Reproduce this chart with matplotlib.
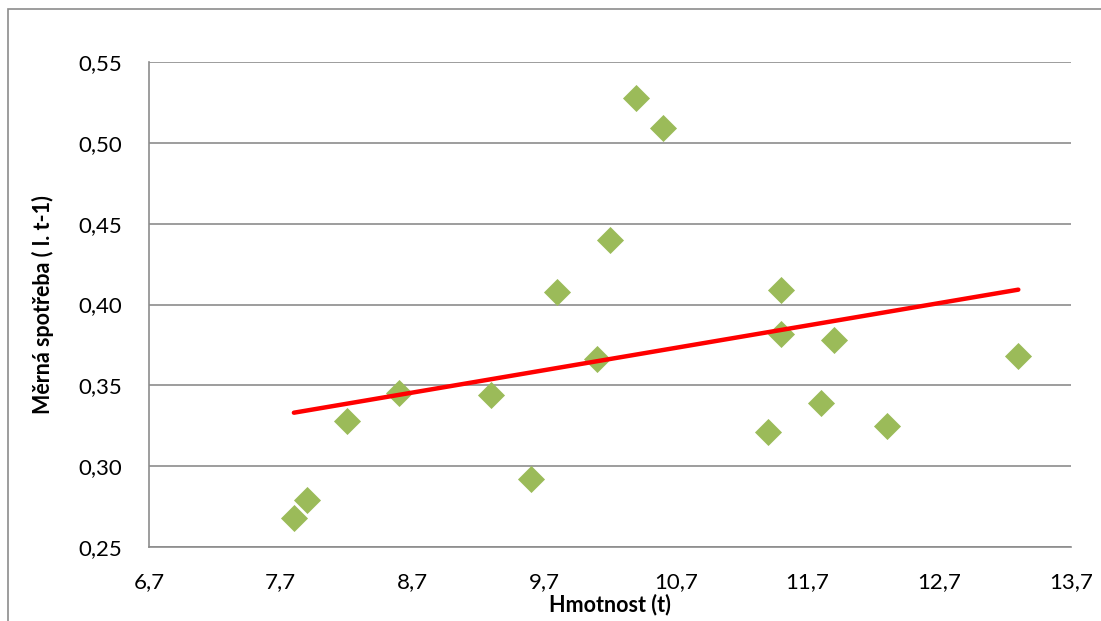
import numpy as np
import matplotlib.pyplot as plt
from matplotlib.patches import Rectangle
from matplotlib.ticker import FuncFormatter

# Data:
hmotnost = [7.8, 7.9, 8.2, 8.6, 9.3, 9.6, 9.8, 10.1, 10.2, 10.4,
            10.6, 11.4, 11.5, 11.5, 11.8, 11.9, 12.3, 13.3]
spotreba = [0.268, 0.279, 0.328, 0.345, 0.344, 0.292, 0.408, 0.366, 0.440, 0.528,
            0.509, 0.321, 0.409, 0.382, 0.339, 0.378, 0.325, 0.368]
x_ticks = [6.7, 7.7, 8.7, 9.7, 10.7, 11.7, 12.7, 13.7]
y_ticks = [0.25, 0.30, 0.35, 0.40, 0.45, 0.50, 0.55]

plt.rcParams['font.family'] = ['Lato', 'DejaVu Sans']

fig = plt.figure(figsize=(11.01, 6.21), dpi=100)
ax = fig.add_axes([149 / 1101, 1 - 547 / 621, 922 / 1101, 485 / 621])

# Outer chart frame:
fig.patches.append(Rectangle((8 / 1101, -0.05), 1.2, 1 - 9 / 621 + 0.05,
                             transform=fig.transFigure, fill=False,
                             edgecolor='#8c8c8c', linewidth=1.2))

# Scatter points:
ax.scatter(hmotnost, spotreba, marker='D', s=190, color='#9bbb59', zorder=3,
           linewidths=0)

# Linear trend line:
k, q = np.polyfit(hmotnost, spotreba, 1)
xs = np.array([min(hmotnost), max(hmotnost)])
ax.plot(xs, k * xs + q, color='#ff0000', linewidth=3.2, solid_capstyle='round', zorder=4)

ax.set_xlim(6.7, 13.7)
ax.set_ylim(0.25, 0.55)
ax.set_xticks(x_ticks)
ax.set_yticks(y_ticks)
ax.xaxis.set_major_formatter(FuncFormatter(lambda v, p: f'{v:.1f}'.replace('.', ',')))
ax.yaxis.set_major_formatter(FuncFormatter(lambda v, p: f'{v:.2f}'.replace('.', ',')))
ax.tick_params(length=0, labelsize=16, pad=18)
ax.tick_params(axis='y', pad=19)

ax.grid(axis='y', color='#8c8c8c', linewidth=1.2)
ax.set_axisbelow(True)
for s in ['top', 'right']:
    ax.spines[s].set_visible(False)
for s in ['left', 'bottom']:
    ax.spines[s].set_color('#8c8c8c')
    ax.spines[s].set_linewidth(1.2)

ax.set_xlabel('Hmotnost (t)', fontsize=15.5, fontweight='bold', labelpad=1)
ax.set_ylabel('Měrná spotřeba ( l. t-1)', fontsize=15.5, fontweight='bold', labelpad=18)

fig.savefig('out.png', dpi=100)
